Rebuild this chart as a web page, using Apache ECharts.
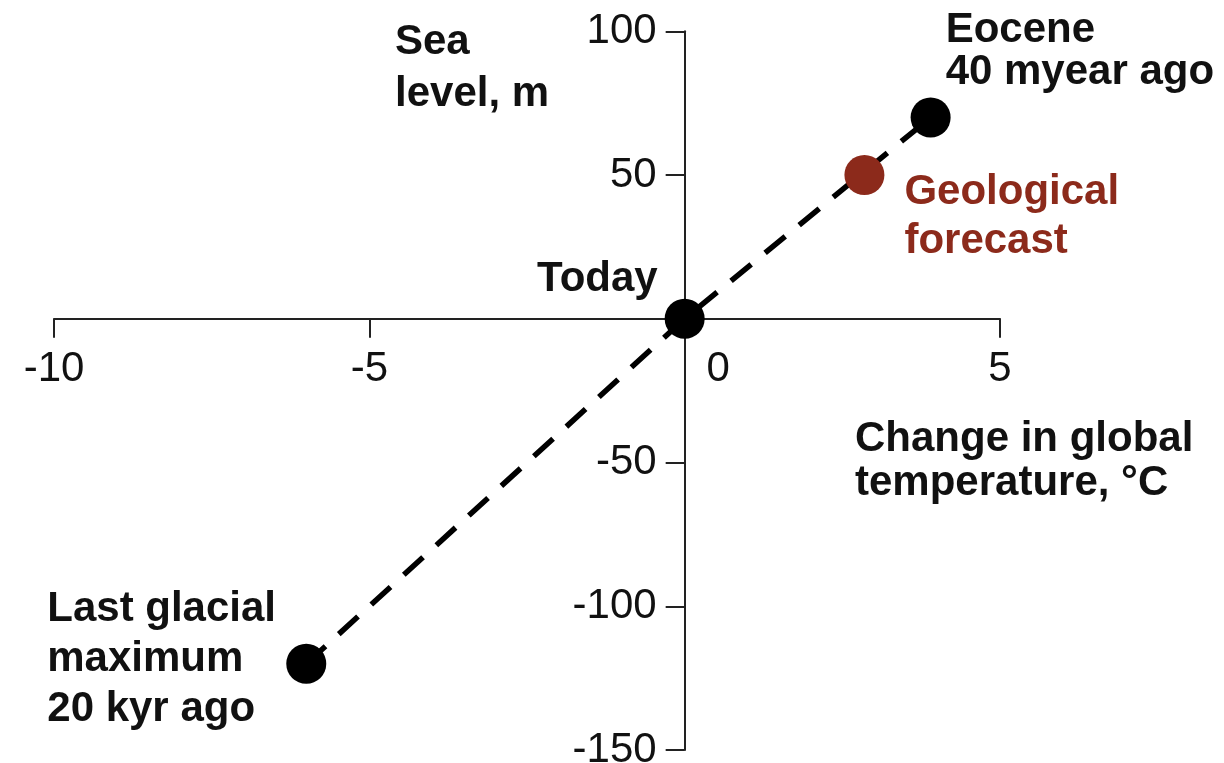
<!DOCTYPE html>
<html>
<head>
<meta charset="utf-8">
<script src="https://cdn.jsdelivr.net/npm/echarts@6/dist/echarts.min.js"></script>
<style>
html,body{margin:0;padding:0;background:#fff;}
#chart{width:1224px;height:763px;}
</style>
</head>
<body>
<div id="chart"></div>
<script>
// ---- data ----
const historyLabels = ['Last glacial\nmaximum\n20 kyr ago', 'Today', 'Eocene\n40 myear ago'];
const historyTemp = [-6, 0, 3.9];      // change in global temperature, °C
const historySea = [-120, 0, 70];      // sea level, m
const forecastLabels = ['Geological\nforecast'];
const forecastTemp = [2.85];
const forecastSea = [50];
const xRange = [-10, 5];
const xStep = 5;
const yRange = [-150, 100];
const yStep = 50;
const yTitle = 'Sea\nlevel, m';
const xTitle = 'Change in global\ntemperature, °C';

// ---- styling / layout ----
const FONT = '"Liberation Sans", Arial, Helvetica, sans-serif';
const INK = '#111';
const RED = '#8c2a1b';
const BOLD_SIZE = 42;
const W = 1224, H = 763;
const G = {left: 54, right: 224, top: 31.25, bottom: 13};
const gw = W - G.left - G.right, gh = H - G.top - G.bottom;
// axes cross at the origin: shift each axis from its grid edge to zero
const xAxisShift = -gh * (0 - yRange[0]) / (yRange[1] - yRange[0]);
const yAxisShift = -gw * (0 - xRange[0]) / (xRange[1] - xRange[0]);

const historyLabelStyle = [
  {align: 'left', offset: [-259, -4], lineHeight: 50},
  {align: 'right', offset: [-27, -39], lineHeight: 42},
  {align: 'left', offset: [15, -66], lineHeight: 42}
];

const chart = echarts.init(document.getElementById('chart'));

const historyData = historyTemp.map((t, i) => ({
  value: [t, historySea[i]],
  name: historyLabels[i],
  label: {
    show: true,
    position: 'inside',
    align: historyLabelStyle[i].align,
    verticalAlign: 'middle',
    offset: historyLabelStyle[i].offset,
    lineHeight: historyLabelStyle[i].lineHeight,
    formatter: historyLabels[i]
  }
}));

const forecastData = forecastTemp.map((t, i) => ({
  value: [t, forecastSea[i]],
  name: forecastLabels[i],
  label: {
    show: true,
    position: 'inside',
    align: 'left',
    verticalAlign: 'middle',
    offset: [40, 42],
    lineHeight: 49,
    formatter: forecastLabels[i]
  }
}));

const option = {
  animation: false,
  backgroundColor: '#fff',
  grid: {left: G.left, right: G.right, top: G.top, bottom: G.bottom, containLabel: false, outerBoundsMode: 'none'},
  xAxis: {
    type: 'value', position: 'bottom', offset: xAxisShift,
    min: xRange[0], max: xRange[1], interval: xStep,
    splitLine: {show: false},
    axisLine: {onZero: false, lineStyle: {color: '#222', width: 2}},
    axisTick: {show: true, inside: false, length: 19, lineStyle: {color: '#222', width: 2}},
    axisLabel: {
      margin: 30, hideOverlap: false,
      fontFamily: FONT, fontSize: 42, color: INK,
      formatter: v => v === 0 ? '{z|0}' : String(v),
      rich: {z: {fontFamily: FONT, fontSize: 42, color: INK, padding: [0, 0, 0, 67]}}
    }
  },
  yAxis: {
    type: 'value', position: 'left', offset: yAxisShift,
    min: yRange[0], max: yRange[1], interval: yStep,
    splitLine: {show: false},
    axisLine: {onZero: false, lineStyle: {color: '#222', width: 2}},
    axisTick: {show: true, inside: false, length: 19, lineStyle: {color: '#222', width: 2}},
    axisLabel: {
      margin: 28, hideOverlap: false,
      fontFamily: FONT, fontSize: 42, color: INK,
      formatter: v => v === 0 ? '' : String(v)
    }
  },
  graphic: [
    {type: 'text', left: 395, top: 16,
     style: {text: yTitle, font: 'bold ' + BOLD_SIZE + 'px ' + FONT, fill: INK, lineHeight: 52}},
    {type: 'text', left: 855, top: 417,
     style: {text: xTitle, font: 'bold ' + BOLD_SIZE + 'px ' + FONT, fill: INK, lineHeight: 44}}
  ],
  series: [
    {
      type: 'line',
      data: historyTemp.map((t, i) => [t, historySea[i]]),
      symbol: 'none',
      lineStyle: {color: '#000', width: 5.5, type: [26, 18]},
      z: 1,
      silent: true
    },
    {
      type: 'scatter',
      data: historyData,
      symbolSize: 40,
      itemStyle: {color: '#000', opacity: 1},
      label: {fontFamily: FONT, fontSize: BOLD_SIZE, fontWeight: 'bold', color: INK},
      z: 3
    },
    {
      type: 'scatter',
      data: forecastData,
      symbolSize: 40,
      itemStyle: {color: RED, opacity: 1},
      label: {fontFamily: FONT, fontSize: BOLD_SIZE, fontWeight: 'bold', color: RED},
      z: 3
    }
  ]
};
chart.setOption(option);
</script>
</body>
</html>
